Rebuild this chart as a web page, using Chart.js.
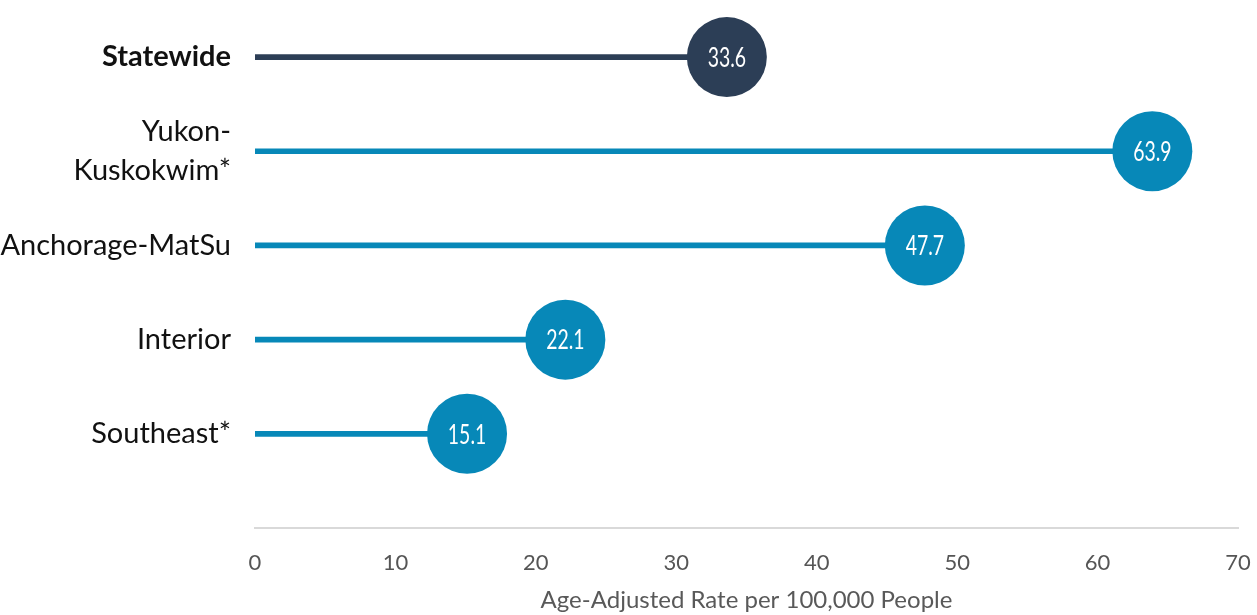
<!DOCTYPE html>
<html>
<head>
<meta charset="utf-8">
<script src="https://cdn.jsdelivr.net/npm/chart.js@4"></script>
<style>
  html, body { margin: 0; padding: 0; background: #fff; }
  #wrap { width: 1257px; height: 615px; position: relative; }
</style>
</head>
<body>
<div id="wrap"><canvas id="rateChart"></canvas></div>
<script>
// regions, top to bottom
var regions = ["Statewide", ["Yukon-", "Kuskokwim*"], "Anchorage-MatSu", "Interior", "Southeast*"];
var rates = [33.6, 63.9, 47.7, 22.1, 15.1];
var dotColors = ["#2c3e56", "#0788b8", "#0788b8", "#0788b8", "#0788b8"];
var xTicks = [0, 10, 20, 30, 40, 50, 60, 70];

var stemData = rates.map(function(v, i) { return { x: v, y: i }; });
var dotData = rates.map(function(v, i) { return { x: v, y: i }; });

// white value text inside each circle, squeezed to look condensed
var dotLabels = {
  id: 'dotLabels',
  afterDatasetsDraw: function(chart) {
    var ctx = chart.ctx;
    var meta = chart.getDatasetMeta(1);
    meta.data.forEach(function(pt, i) {
      ctx.save();
      ctx.translate(pt.x, pt.y + 1);
      ctx.scale(0.72, 1);
      ctx.fillStyle = '#fff';
      ctx.font = '27px Lato, sans-serif';
      ctx.textAlign = 'center';
      ctx.textBaseline = 'middle';
      ctx.fillText(rates[i].toFixed(1), 0, 0);
      ctx.restore();
    });
  }
};

new Chart("rateChart", {
  data: {
    datasets: [
      {
        type: 'bar',
        indexAxis: 'y',
        data: stemData,
        backgroundColor: dotColors,
        barThickness: 5,
        order: 1
      },
      {
        type: 'scatter',
        data: dotData,
        backgroundColor: dotColors,
        borderWidth: 0,
        pointRadius: 40,
        pointHoverRadius: 40,
        clip: false,
        order: 0
      }
    ]
  },
  options: {
    responsive: true,
    maintainAspectRatio: false,
    animation: false,
    layout: { autoPadding: false, padding: { top: 10, right: 19, bottom: 0, left: 0 } },
    plugins: {
      legend: { display: false },
      tooltip: { enabled: false }
    },
    scales: {
      x: {
        type: 'linear',
        offset: false,
        min: 0,
        max: 70,
        afterBuildTicks: function(scale) {
          scale.ticks = xTicks.map(function(v) { return { value: v }; });
        },
        afterFit: function(scale) {
          scale.height = 87;
          scale.paddingLeft = 0;
          scale.paddingRight = 0;
        },
        grid: { display: false, drawTicks: false },
        border: { display: true, color: '#d9d9d9', width: 2 },
        ticks: {
          padding: 22,
          color: '#555',
          font: { family: 'Lato', size: 22 }
        },
        title: {
          display: true,
          text: 'Age-Adjusted Rate per 100,000 People',
          color: '#595959',
          font: { family: 'Lato', size: 24 },
          padding: { top: 0, bottom: 0 }
        }
      },
      y: {
        type: 'linear',
        offset: false,
        reverse: true,
        min: -0.5,
        max: 5,
        afterBuildTicks: function(scale) {
          scale.ticks = regions.map(function(r, i) { return { value: i }; });
        },
        afterFit: function(scale) {
          scale.width = 255;
          scale.paddingTop = 0;
          scale.paddingBottom = 0;
        },
        grid: { display: false, drawTicks: false },
        border: { display: false },
        ticks: {
          padding: 24,
          autoSkip: false,
          color: '#111',
          callback: function(v) { return regions[v]; },
          font: function(ctx) {
            return {
              family: 'Lato',
              size: 29,
              lineHeight: 1.34,
              weight: ctx.index === 0 ? 'bold' : 'normal'
            };
          }
        }
      }
    }
  },
  plugins: [dotLabels]
});
</script>
</body>
</html>
